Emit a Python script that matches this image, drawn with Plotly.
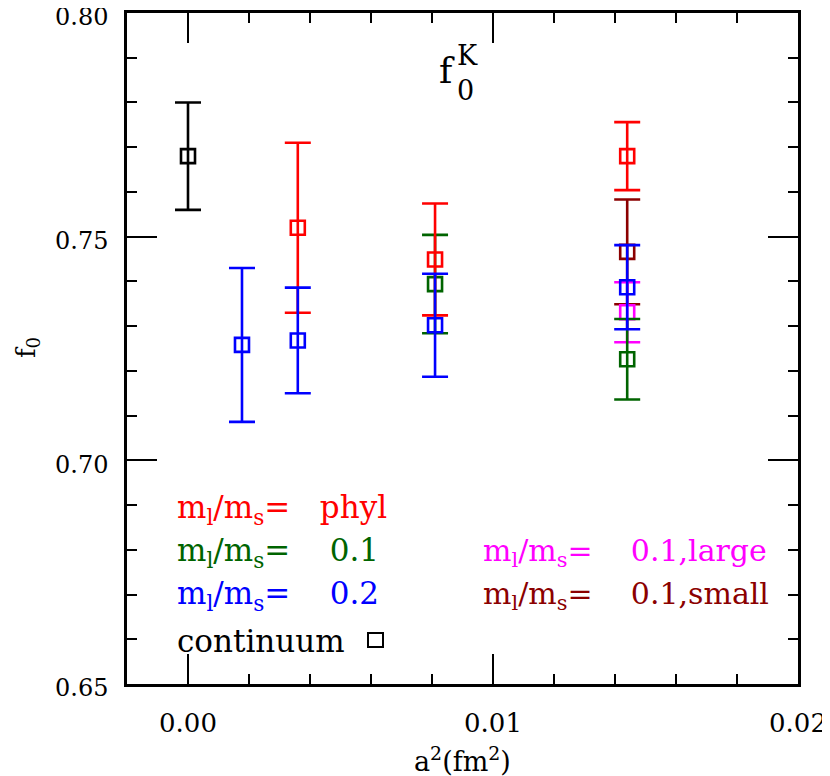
import plotly.graph_objects as go

# a^2 (fm^2) positions and f0 values with errors, per series
cont_x = [0.0]
cont_y = [0.768]
cont_err = [0.012]

phys_x = [0.0036, 0.0081, 0.0144]
phys_y = [0.752, 0.7449, 0.768]
phys_err = [0.019, 0.0125, 0.0076]

r01_x = [0.0081, 0.0144]
r01_y = [0.7394, 0.7226]
r01_err = [0.011, 0.009]

r02_x = [0.00177, 0.0036, 0.0081, 0.0144]
r02_y = [0.7258, 0.7268, 0.7302, 0.7387]
r02_err = [0.0172, 0.0118, 0.0115, 0.0094]

large_x = [0.0144]
large_y = [0.7331]
large_err = [0.0067]

small_x = [0.0144]
small_y = [0.7466]
small_err = [0.0117]

x_ticks = [0.0, 0.01, 0.02]
y_ticks = [0.65, 0.70, 0.75, 0.80]

FONT = "DejaVu Serif"
# the page body has an 8px margin, so the figure is drawn 8px in from the corner
OFF = 8
W, H = 830 - OFF, 776 - OFF
L, R, T, B = 127 - OFF, 32, 13 - OFF, 92
pw, ph = W - L - R, H - T - B


def px(x):
    # page pixel -> paper fraction
    return (x - OFF - L) / pw


def py(y):
    return (H - B - (y - OFF)) / ph


series = [
    (small_x, small_y, small_err, "#8b0000"),
    (large_x, large_y, large_err, "#ff00ff"),
    (r01_x, r01_y, r01_err, "#006400"),
    (phys_x, phys_y, phys_err, "#ff0000"),
    (r02_x, r02_y, r02_err, "#0000ff"),
    (cont_x, cont_y, cont_err, "#000000"),
]

fig = go.Figure()
for xs, ys, es, col in series:
    fig.add_trace(go.Scatter(
        x=xs, y=ys, mode="markers",
        marker=dict(symbol="square-open", size=14, color=col,
                    line=dict(width=2.6, color=col)),
        error_y=dict(type="data", array=es, visible=True, color=col,
                     thickness=2.6, width=13),
        showlegend=False,
    ))

axis_common = dict(
    showline=True, linecolor="black", linewidth=2.5, mirror="allticks",
    ticks="inside", ticklen=30, tickwidth=2, tickcolor="black",
    showgrid=False, zeroline=False, automargin=False,
    ticklabeloverflow="allow",
)

fig.update_xaxes(
    range=[-0.002, 0.02], tickvals=x_ticks, tickformat=".2f",
    minor=dict(dtick=0.002, tick0=0, ticks="inside", ticklen=10, tickwidth=2,
               tickcolor="black", showgrid=False),
    ticklabelstandoff=14,
    tickfont=dict(family=FONT, size=26, color="black"),
    **axis_common,
)
fig.update_yaxes(
    range=[0.65, 0.80], tickvals=y_ticks, tickformat=".2f",
    minor=dict(dtick=0.01, tick0=0.65, ticks="inside", ticklen=10, tickwidth=2,
               tickcolor="black", showgrid=False),
    ticklabelstandoff=11, ticklabelshift=4,
    tickfont=dict(family=FONT, size=24, color="black"),
    **axis_common,
)

ann = []


def text(x, y, s, col="black", size=31, xanchor="left", angle=0):
    ann.append(dict(x=px(x), y=py(y), xref="paper", yref="paper", text=s,
                    showarrow=False, xanchor=xanchor, yanchor="middle",
                    textangle=angle,
                    font=dict(family=FONT, size=size, color=col)))


ratio = "m<sub>l</sub>/m<sub>s</sub>="
text(175, 509, ratio + "   phyl", "#ff0000")
text(175, 552, ratio + "    0.1", "#006400")
text(175, 595, ratio + "    0.2", "#0000ff")
text(175, 641, "continuum", "black")
text(481, 552, ratio + "    0.1,large", "#ff00ff", size=30)
text(481, 595, ratio + "    0.1,small", "#8b0000", size=30)

# title f_0^K
text(447, 70, "f", size=36, xanchor="center")
text(465, 91, "0", size=27, xanchor="center")
text(467, 56, "K", size=27, xanchor="center")

# axis titles
text(462, 759, "a<sup>2</sup>(fm<sup>2</sup>)", size=27, xanchor="center")
text(27, 348, "f<sub>0</sub>", size=26, xanchor="center", angle=-90)

fig.update_layout(
    width=W, height=H,
    margin=dict(l=L, r=R, t=T, b=B),
    plot_bgcolor="white", paper_bgcolor="white",
    annotations=ann,
    shapes=[dict(type="rect", xref="paper", yref="paper",
                 x0=px(368), x1=px(383), y0=py(647), y1=py(633),
                 line=dict(color="black", width=2))],
)

fig.write_html("out.html")
